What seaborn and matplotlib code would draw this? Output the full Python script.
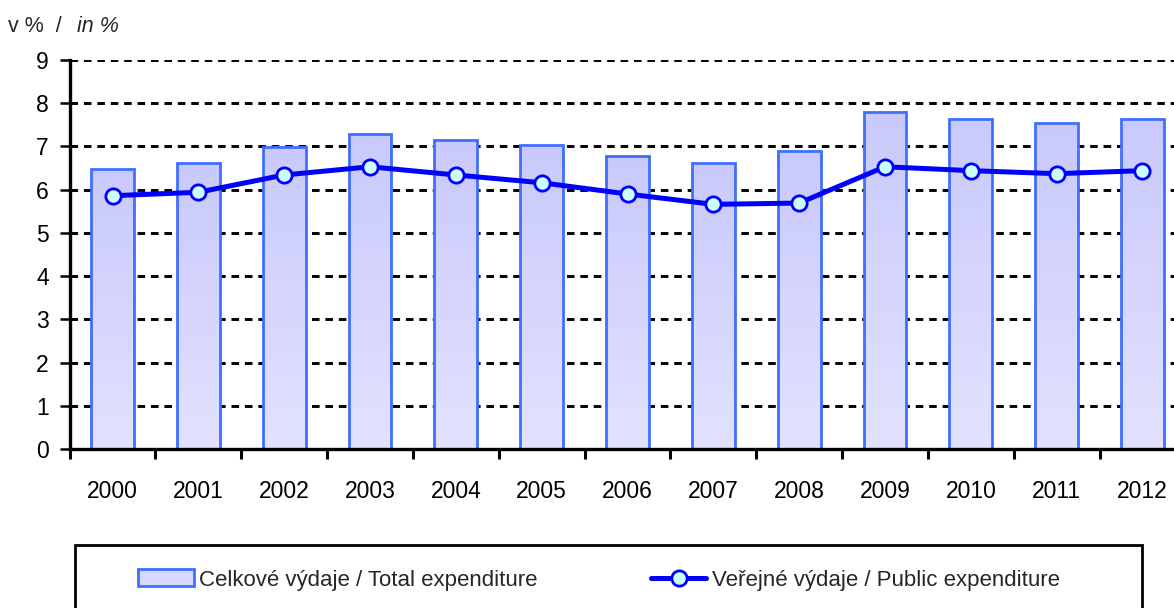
import numpy as np
import pandas as pd
import matplotlib
matplotlib.use("Agg")
import matplotlib.pyplot as plt
import seaborn as sns
from matplotlib.patches import Rectangle, Patch
from matplotlib.lines import Line2D
from matplotlib.colors import LinearSegmentedColormap

years = [str(y) for y in range(2000, 2013)]
total_exp = [6.48, 6.61, 6.99, 7.28, 7.15, 7.04, 6.79, 6.61, 6.89, 7.80, 7.64, 7.55, 7.64]
public_exp = [5.86, 5.94, 6.34, 6.53, 6.34, 6.16, 5.90, 5.66, 5.69, 6.53, 6.44, 6.37, 6.44]
yticks = list(range(0, 10))
label_total = "Celkové výdaje / Total expenditure"
label_public = "Veřejné výdaje / Public expenditure"

df = pd.DataFrame({"year": years, "total": total_exp, "public": public_exp})

sns.set_style("white")
plt.rcParams["font.family"] = ["Liberation Sans", "DejaVu Sans"]

W, H = 1174, 608
fig = plt.figure(figsize=(W / 100, H / 100), dpi=100)
left, right, top, bottom = 69.6, 1185.4, 60, 449
ax = fig.add_axes([left / W, (H - bottom) / H, (right - left) / W, (bottom - top) / H])

bar_edge = "#3f6fff"
sns.barplot(data=df, x="year", y="total", ax=ax, width=0.5, color="#ccccff",
            edgecolor=bar_edge, linewidth=2.0, zorder=2, saturation=1)

# vertical gradient fill inside bars (darker at top, lighter at bottom)
cmap = LinearSegmentedColormap.from_list("g", ["#c9c9fc", "#e2e2ff"])
grad = np.linspace(0, 1, 256).reshape(-1, 1)
for p in list(ax.patches):
    x0, y0 = p.get_x(), p.get_y()
    w, h = p.get_width(), p.get_height()
    im = ax.imshow(grad, extent=[x0, x0 + w, y0, y0 + h], aspect="auto",
                   cmap=cmap, zorder=2.1, origin="upper")
    im.set_clip_path(p)
    p.set_facecolor("none")
    p.set_zorder(2.2)

sns.pointplot(data=df, x="year", y="public", ax=ax, color="#0000ff",
              markers="o", linestyles="-", errorbar=None, native_scale=False)
for ln in ax.lines:
    ln.set_linewidth(3.6)
    ln.set_markersize(11)
    ln.set_markerfacecolor("#ccffff")
    ln.set_markeredgecolor("#0000ff")
    ln.set_markeredgewidth(2.0)
    ln.set_zorder(4)
for c in ax.collections:
    c.set_zorder(5)
    c.set_facecolor("#ccffff")
    c.set_edgecolor("#0000ff")
    c.set_linewidth(2.0)
    c.set_sizes([130])

ax.set_xlim(-0.5, len(years) - 0.5)
ax.set_ylim(0, 9)
ax.set_yticks(yticks)
ax.set_yticklabels([str(v) for v in yticks])
ax.set_xlabel("")
ax.set_ylabel("")

for v in yticks[1:]:
    ax.axhline(v, color="black", linewidth=2.1, linestyle=(0, (2.6, 2.0)), zorder=1)

for s in ["top", "right"]:
    ax.spines[s].set_visible(False)
for s in ["left", "bottom"]:
    ax.spines[s].set_color("black")
    ax.spines[s].set_linewidth(2.4)
    ax.spines[s].set_zorder(6)

ax.set_xticks(np.arange(len(years)))
ax.set_xticklabels(years)
ax.set_xticks(np.arange(-0.5, len(years), 1.0), minor=True)
ax.tick_params(axis="x", which="major", length=0, pad=22, labelsize=16.5, colors="black")
ax.tick_params(axis="x", which="minor", length=7, width=2.2, direction="out", color="black", bottom=True)
ax.tick_params(axis="y", which="major", length=7, width=1.8, direction="out", pad=8,
               labelsize=16.5, colors="black", left=True)
ax.set_facecolor("white")

fig.text(8 / W, (H - 27) / H, "v %  /  ", fontsize=15.5, va="center", ha="left")
fig.text(77 / W, (H - 27) / H, "in %", fontsize=15.5, va="center", ha="left", style="italic")

# legend frame
fig.patches.append(Rectangle((75 / W, -0.05), (1142 - 75) / W, (H - 545) / H + 0.05,
                             transform=fig.transFigure, facecolor="white",
                             edgecolor="black", linewidth=2, zorder=0))
handles = [
    Patch(facecolor="#d8d8ff", edgecolor=bar_edge, linewidth=2, label=label_total),
    Line2D([0], [0], color="#0000ff", linewidth=3.6, marker="o", markersize=11,
           markerfacecolor="#ccffff", markeredgecolor="#0000ff", markeredgewidth=2,
           label=label_public),
]
leg = fig.legend(handles=handles, loc="center left",
                 bbox_to_anchor=(138 / W, (H - 580) / H), ncol=2, frameon=False,
                 fontsize=16, handlelength=2.5, handleheight=0.8, handletextpad=0.25,
                 columnspacing=5.1, borderaxespad=0, borderpad=0)

fig.savefig("out.png", dpi=100)
